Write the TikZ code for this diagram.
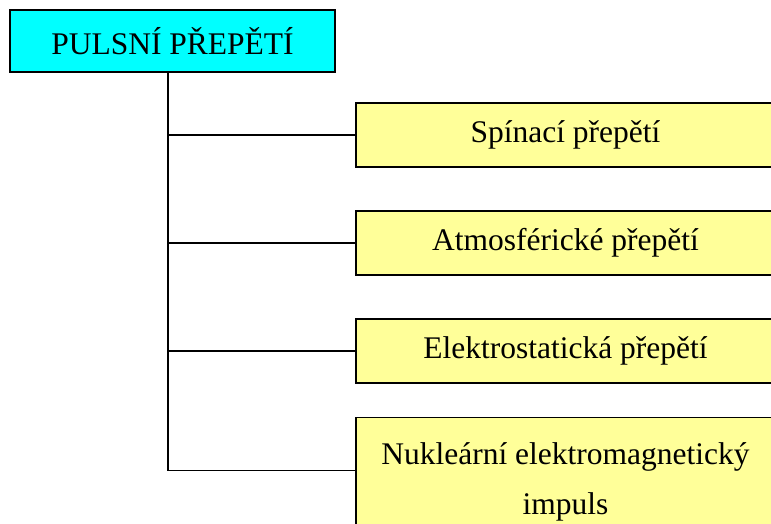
\documentclass[tikz,border=0pt]{standalone}
\usepackage{fontspec}
\setmainfont{Liberation Serif}
\usetikzlibrary{positioning}

\definecolor{headcyan}{RGB}{0,255,255}
\definecolor{kindyellow}{RGB}{255,255,153}

\begin{document}
\begin{tikzpicture}[x=1pt, y=1pt, node distance=42.5pt,
font=\fontsize{31.5}{50}\selectfont,
head/.style={rectangle, draw, line width=1.5pt, fill=headcyan, minimum width=325pt, minimum height=62pt, inner sep=0pt},
kind/.style={rectangle, draw, line width=1.5pt, fill=kindyellow, minimum width=419pt, minimum height=64pt, inner sep=0pt, align=center},
line/.style={draw, line width=1.5pt}]

\useasboundingbox (0,0) rectangle (771,-524);
\clip (0,0) rectangle (771,-524);

% Nodes
\node[head] (pulse) at (172.5,-41) {PULSNÍ PŘEPĚTÍ};
\coordinate (trunk) at ([xshift=-4.5pt]pulse.south);

\node[kind] (switching) at (565.5,-135) {Spínací přepětí};
\node[kind, below=of switching] (lightning) {Atmosférické přepětí};
\node[kind, below=of lightning] (static) {Elektrostatická přepětí};
% last box runs off the bottom edge
\node[kind, below=33pt of static, minimum height=128pt] (nemp) {Nukleární elektromagnetický\\impuls};

% Paths
\path[line] (trunk) |- ([yshift=11pt]nemp.west);
\path[line] (trunk |- switching.west) -- (switching.west);
\path[line] (trunk |- lightning.west) -- (lightning.west);
\path[line] (trunk |- static.west) -- (static.west);
\end{tikzpicture}
\end{document}
